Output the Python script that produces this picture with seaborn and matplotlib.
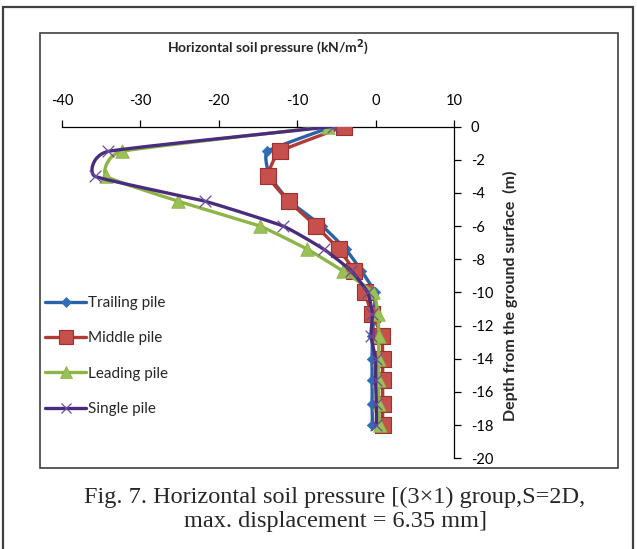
import numpy as np
import pandas as pd
import matplotlib
matplotlib.use("Agg")
import matplotlib.pyplot as plt
from matplotlib.lines import Line2D
from matplotlib.patches import Rectangle
import seaborn as sns

# Depth of each pile node (m) and horizontal soil pressure (kN/m2)
depth = [0, -1.5, -3, -4.5, -6, -7.4, -8.7, -10, -11.3, -12.6, -14, -15.3, -16.7, -18]
trailing = [-5.5, -13.8, -13.5, -11.0, -6.8, -3.8, -1.8, -0.1, -0.2, -0.4, -0.45, -0.45, -0.45, -0.4]
middle = [-4.0, -12.2, -13.7, -11.1, -7.6, -4.7, -2.7, -1.4, -0.5, 0.8, 0.9, 0.9, 0.9, 0.9]
leading = [-6.1, -32.4, -34.4, -25.2, -14.8, -8.7, -4.2, -0.3, 0.3, 0.4, 0.4, 0.4, 0.4, 0.5]
single = [-5.4, -34.1, -35.8, -21.8, -11.8, -6.6, -3.1, -1.0, -0.4, -0.6, 0.0, 0.0, 0.1, 0.1]

series_names = ["Trailing pile", "Middle pile", "Leading pile", "Single pile"]
xticks = [-40, -30, -20, -10, 0, 10]
yticks = [0, -2, -4, -6, -8, -10, -12, -14, -16, -18, -20]

sns.set_style("white")
plt.rcParams["font.family"] = ["Lato", "DejaVu Sans"]

W, H = 637, 549
fig = plt.figure(figsize=(W / 100, H / 100), dpi=100)


def fx(px):
    return px / W


def fy(py):
    return 1 - py / H


# outer frame and chart box
fig.patches.append(Rectangle((fx(3), fy(560)), fx(633) - fx(3), fy(7) - fy(560),
                             transform=fig.transFigure, fill=False,
                             edgecolor="#404040", linewidth=1.6))
fig.patches.append(Rectangle((fx(40), fy(468)), fx(618) - fx(40), fy(33) - fy(468),
                             transform=fig.transFigure, fill=False,
                             edgecolor="#404040", linewidth=1.2))

ax = fig.add_axes([fx(62), fy(458.3), fx(454) - fx(62), fy(126.5) - fy(458.3)])
ax.set_xlim(-40, 10)
ax.set_ylim(-20, 0)


def smooth(xs, ys, n=24, c=0.4):
    """Cardinal (Hermite) curve through the points, like a smoothed line chart."""
    p = np.column_stack([xs, ys]).astype(float)
    p = np.vstack([2 * p[0] - p[1], p, 2 * p[-1] - p[-2]])
    t = np.linspace(0, 1, n, endpoint=False)[:, None]
    h00 = 2 * t ** 3 - 3 * t ** 2 + 1
    h10 = t ** 3 - 2 * t ** 2 + t
    h01 = -2 * t ** 3 + 3 * t ** 2
    h11 = t ** 3 - t ** 2
    out = []
    for i in range(1, len(p) - 2):
        m1 = c * (p[i + 1] - p[i - 1]) / 2
        m2 = c * (p[i + 2] - p[i]) / 2
        out.append(h00 * p[i] + h10 * m1 + h01 * p[i + 1] + h11 * m2)
    out.append(p[-2][None, :])
    out = np.vstack(out)
    return out[:, 0], out[:, 1]


styles = {
    "Trailing pile": dict(vals=trailing, color="#2A62A8", marker="D", s=28, mfc="#2F6DB5", mec="#2F6DB5", lw=0.5),
    "Middle pile": dict(vals=middle, color="#B03A36", marker="s", s=120, mfc="#C5504C", mec="#A0302C", lw=0.8),
    "Leading pile": dict(vals=leading, color="#8DB446", marker="^", s=95, mfc="#9BC056", mec="#86AD40", lw=0.5),
    "Single pile": dict(vals=single, color="#4A2C7E", marker="x", s=70, mfc="#6A4B9E", mec="#6A4B9E", lw=0.9),
}

handles = []
for k, name in enumerate(series_names):
    st = styles[name]
    sx, sy = smooth(st["vals"], depth)
    ax.plot(sx, sy, color=st["color"], lw=2.4, zorder=2 + 2 * k, solid_capstyle="round")
    df = pd.DataFrame({"pressure": st["vals"], "depth": depth})
    if st["marker"] == "x":
        sns.scatterplot(data=df, x="pressure", y="depth", ax=ax, marker="x", s=st["s"],
                        color=st["mec"], linewidth=st["lw"], zorder=3 + 2 * k, legend=False)
    else:
        sns.scatterplot(data=df, x="pressure", y="depth", ax=ax, marker=st["marker"], s=st["s"],
                        color=st["mfc"], edgecolor=st["mec"], linewidth=st["lw"],
                        zorder=3 + 2 * k, legend=False)
    handles.append(Line2D([0], [0], color=st["color"], lw=2.4, marker=st["marker"],
                          markersize=np.sqrt(st["s"]) * 0.9, markerfacecolor=st["mfc"],
                          markeredgecolor=st["mec"], markeredgewidth=st["lw"]))

# axes: x along the top at depth 0, depth axis on the right at x = 10
for side in ["left", "bottom"]:
    ax.spines[side].set_visible(False)
for side in ["top", "right"]:
    ax.spines[side].set_visible(True)
    ax.spines[side].set_color("#000000")
    ax.spines[side].set_linewidth(0.9)
ax.xaxis.set_ticks_position("top")
ax.yaxis.set_ticks_position("right")
ax.set_xticks(xticks)
ax.set_yticks(yticks)
ax.set_xticklabels([str(v) for v in xticks])
ax.set_yticklabels([str(v) for v in yticks])
ax.tick_params(axis="x", direction="out", length=5, width=0.9, pad=8, labelsize=10.5, colors="#000000")
ax.tick_params(axis="y", direction="out", length=5, width=0.9, pad=7, labelsize=10.5, colors="#000000")
for lab in ax.get_yticklabels():
    lab.set_horizontalalignment("left")
ax.set_xlabel("")
ax.set_ylabel("")
ax.grid(False)
ax.set_facecolor("none")

fig.text(fx(268), fy(47), "Horizontal soil pressure (kN/m$^{\\mathbf{2}}$)", ha="center", va="center",
         fontsize=10, fontweight="bold")
fig.text(fx(510), fy(296), "Depth from the ground surface  (m)", ha="center", va="center",
         rotation=90, fontsize=11.5, fontweight="bold")

leg = fig.legend(handles, series_names, loc="upper left",
                 bbox_to_anchor=(fx(45), fy(296)), frameon=False,
                 fontsize=11, handlelength=2.7, handletextpad=0.1,
                 labelspacing=1.4, borderpad=0, borderaxespad=0)

fig.text(fx(335), fy(497), "Fig. 7. Horizontal soil pressure [(3\u00d71) group,S=2D,",
         ha="center", va="center", fontsize=17.5, family=["Liberation Serif"])
fig.text(fx(335), fy(522), "max. displacement = 6.35 mm]",
         ha="center", va="center", fontsize=17.5, family=["Liberation Serif"])

fig.savefig("out.png", dpi=100)
